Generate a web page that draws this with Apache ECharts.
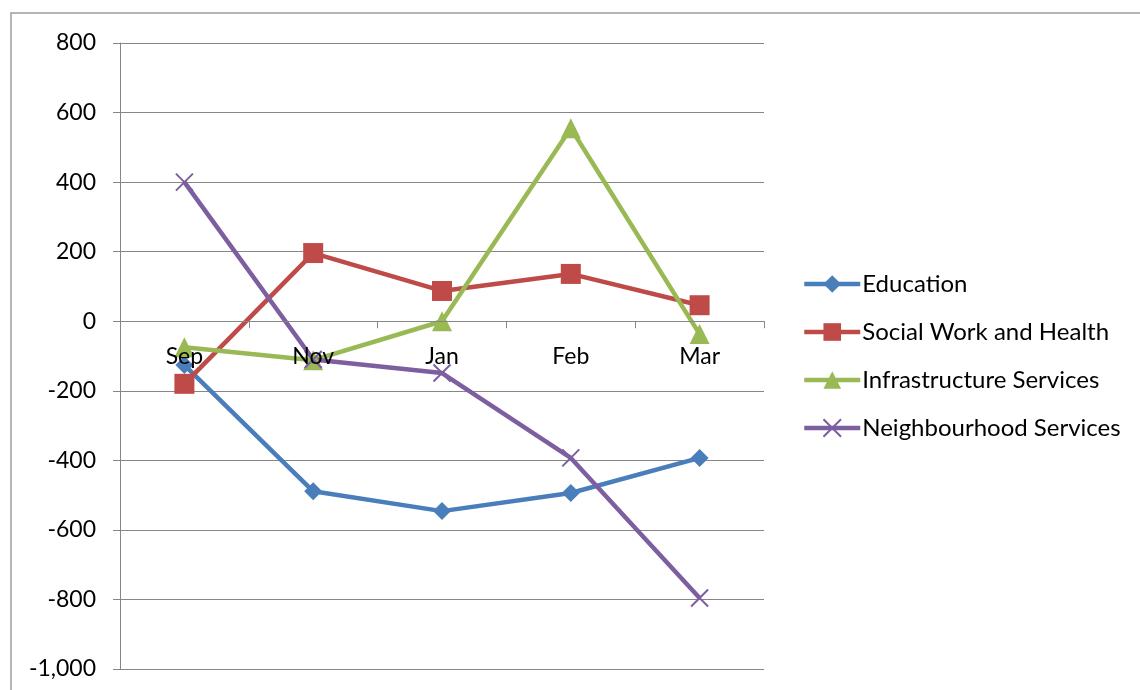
<!DOCTYPE html>
<html>
<head>
<meta charset="utf-8">
<script src="https://cdn.jsdelivr.net/npm/echarts@6/dist/echarts.min.js"></script>
<style>
  html, body { margin: 0; padding: 0; background: #fff; }
  #chart { width: 1140px; height: 690px; }
</style>
</head>
<body>
<div id="chart"></div>
<script>
// Monthly variance by service area
const months = ['Sep', 'Nov', 'Jan', 'Feb', 'Mar'];
const education = [-126, -489, -546, -494, -393];
const socialWork = [-180, 196, 87, 136, 46];
const infrastructure = [-75, -112, 0, 555, -37];
const neighbourhood = [400, -110, -149, -393, -796];

const FONT = 'Lato, "Open Sans", sans-serif';
const GRID = '#868686';
const crossPath = 'path://M0,0L10,10M10,0L0,10';

const Y_MIN = -1000, Y_MAX = 800, Y_STEP = 200;
const CHART_H = 690, GRID_TOP = 43, GRID_BOTTOM = 21;
// category axis sits on the zero line: shift it up from the grid bottom
const plotH = CHART_H - GRID_TOP - GRID_BOTTOM;
const xAxisOffset = -plotH * (0 - Y_MIN) / (Y_MAX - Y_MIN);

function lineSeries(name, data, color, symbol, size, extraItem) {
  return {
    name: name,
    type: 'line',
    data: data,
    symbol: symbol,
    symbolSize: size,
    showAllSymbol: true,
    color: color,
    lineStyle: { color: color, width: 4.5 },
    itemStyle: Object.assign({ color: color }, extraItem || {}),
    emphasis: { disabled: true },
    z: 2,
    animation: false
  };
}

const chart = echarts.init(document.getElementById('chart'), null, { renderer: 'canvas' });
chart.setOption({
  backgroundColor: '#fff',
  animation: false,
  textStyle: { fontFamily: FONT },
  graphic: [{
    type: 'rect',
    shape: { x: 11, y: 13, width: 1400, height: 900 },
    style: { fill: 'none', stroke: '#9d9d9d', lineWidth: 1.5 },
    silent: true,
    z: -1
  }],
  grid: { left: 120, right: 376, top: GRID_TOP, bottom: GRID_BOTTOM, containLabel: false, outerBoundsMode: 'none' },
  legend: {
    orient: 'vertical',
    left: 797,
    top: 267,
    itemWidth: 56,
    itemHeight: 22,
    itemGap: 24,
    lineStyle: { width: 4.5 },
    textStyle: { fontFamily: FONT, fontSize: 24, color: '#000', lineHeight: 24, padding: [0, 0, 0, -3] },
    data: ['Education', 'Social Work and Health', 'Infrastructure Services', 'Neighbourhood Services']
  },
  xAxis: {
    type: 'category',
    data: months,
    boundaryGap: true,
    position: 'bottom',
    offset: xAxisOffset,
    axisLine: { onZero: false, lineStyle: { color: GRID, width: 1 } },
    axisTick: { show: true, length: 7, lineStyle: { color: GRID } },
    axisLabel: { color: '#000', fontSize: 23, fontFamily: FONT, margin: 24 },
    splitLine: { show: false },
    z: 10
  },
  yAxis: {
    type: 'value',
    min: Y_MIN,
    max: Y_MAX,
    interval: Y_STEP,
    axisLine: { show: true, lineStyle: { color: GRID, width: 1 } },
    axisTick: { show: true, length: 7, lineStyle: { color: GRID } },
    axisLabel: {
      color: '#000', fontSize: 23, fontFamily: FONT, margin: 24,
      formatter: v => v.toLocaleString('en-US')
    },
    splitLine: { show: true, lineStyle: { color: GRID, width: 1 } }
  },
  series: [
    lineSeries('Education', education, '#4a7ebb', 'diamond', 18),
    lineSeries('Social Work and Health', socialWork, '#be4b48', 'rect', 20),
    lineSeries('Infrastructure Services', infrastructure, '#98b954', 'triangle', 20),
    lineSeries('Neighbourhood Services', neighbourhood, '#7d5fa0', crossPath, 17,
      { borderColor: '#7d5fa0', borderWidth: 2 })
  ]
});
</script>
</body>
</html>
